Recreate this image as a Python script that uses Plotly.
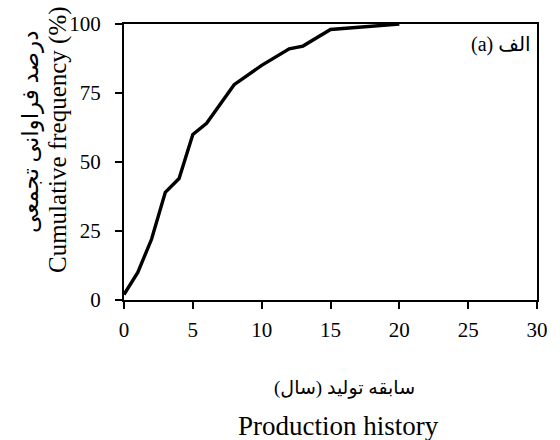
import plotly.graph_objects as go

# Cumulative frequency of production history (years)
years = [0, 1, 2, 3, 4, 5, 6, 8, 10, 12, 13, 15, 20]
cum_freq = [2, 10, 22, 39, 44, 60, 64, 78, 85, 91, 92, 98, 100]

x_ticks = [0, 5, 10, 15, 20, 25, 30]
y_ticks = [0, 25, 50, 75, 100]

SERIF = "Liberation Serif"
ARABIC = "Liberation Serif, DejaVu Sans"

fig = go.Figure()
fig.add_trace(go.Scatter(
    x=years, y=cum_freq, mode="lines",
    line=dict(color="black", width=3.4),
    showlegend=False, hoverinfo="skip",
))

axis_common = dict(
    showline=True, linecolor="black", linewidth=2, mirror=True,
    ticks="outside", ticklen=7, tickwidth=2, tickcolor="black",
    showgrid=False, zeroline=False,
    tickfont=dict(family=SERIF, size=21, color="black"),
)

fig.update_xaxes(range=[0, 30], tickvals=x_ticks, ticklabelstandoff=3, **axis_common)
fig.update_yaxes(range=[0, 100], tickvals=y_ticks, ticklabelstandoff=10, **axis_common)

annotations = [
    # panel label
    dict(text="<span style='font-family:Liberation Serif'>(a)</span> الف",
         xref="paper", yref="paper", x=1, y=1,
         xanchor="right", yanchor="top", xshift=-4, yshift=-7,
         showarrow=False, font=dict(family=ARABIC, size=20, color="black")),
    # y-axis titles
    dict(text="درصد فراوانی تجمعی", xref="paper", yref="paper", x=0, y=0.5,
         xanchor="center", yanchor="middle", xshift=-93, yshift=30,
         textangle=-90, showarrow=False,
         font=dict(family=ARABIC, size=23, color="black")),
    dict(text="Cumulative frequency (%)", xref="paper", yref="paper", x=0, y=0.5,
         xanchor="center", yanchor="middle", xshift=-66, yshift=22,
         textangle=-90, showarrow=False,
         font=dict(family=SERIF, size=25, color="black")),
    # x-axis titles
    dict(text="\u200fسابقه تولید (سال)\u200f", xref="paper", yref="paper", x=0.5, y=0,
         xanchor="center", yanchor="middle", xshift=14, yshift=-88,
         showarrow=False, font=dict(family=ARABIC, size=19, color="black")),
    dict(text="Production history", xref="paper", yref="paper", x=0.5, y=0,
         xanchor="center", yanchor="middle", xshift=8, yshift=-126,
         showarrow=False, font=dict(family=SERIF, size=27, color="black")),
]

fig.update_layout(
    width=560, height=440,
    margin=dict(l=124, r=14, t=21, b=140),
    paper_bgcolor="white", plot_bgcolor="white",
    font=dict(family=SERIF, color="black"),
    annotations=annotations,
)

fig.write_html("out.html")
